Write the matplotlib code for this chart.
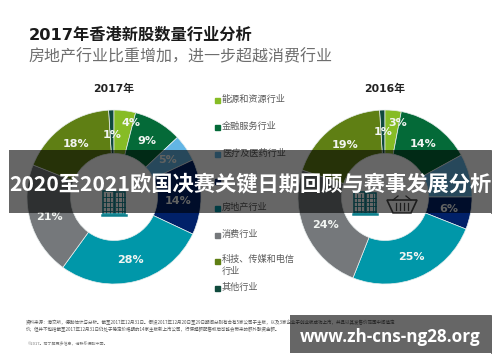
import matplotlib
matplotlib.use("Agg")
import numpy as np
import matplotlib.pyplot as plt
from matplotlib.patches import Rectangle, Polygon

plt.rcParams['font.family'] = ['DejaVu Sans', 'Noto Sans CJK SC']
CJK = ['Noto Sans CJK SC', 'DejaVu Sans']

sectors = ["其他行业", "能源和资源行业", "金融服务行业", "医疗及医药行业", "",
           "房地产行业", "消费行业", "科技、传媒和电信\n行业"]
share_2017 = [1, 4, 9, 5, 14, 28, 21, 18]
share_2016 = [1, 3, 14, 8, 6, 25, 24, 19]
colors = ["#0f4a3c", "#86BC25", "#046A38", "#62B5E5", "#012169", "#0097A9", "#75787B", "#5f7f14"]
legend_order = [1, 2, 3, 4, 5, 6, 7, 0]
legend_y = [100, 127, 154, 181, 208, 235, 261, 288]

W, H = 500, 362
fig = plt.figure(figsize=(W / 100, H / 100), dpi=100, facecolor="white")


def add_donut(cx, cy, R, values, moved, hidden=()):
    ax = fig.add_axes([(cx - R) / W, 1 - (cy + R) / H, 2 * R / W, 2 * R / H], zorder=1)
    wedges, _ = ax.pie(values, colors=colors, startangle=90 + 3.6 * values[0], counterclock=False,
                       radius=1, wedgeprops=dict(width=0.5, edgecolor="#e8eeee", linewidth=0.5))
    ax.set_xlim(-1, 1)
    ax.set_ylim(-1, 1)
    for i, (w, v) in enumerate(zip(wedges, values)):
        if i in hidden:
            continue  # covered by the banner in the reference
        a = np.deg2rad((w.theta1 + w.theta2) / 2)
        x, y = moved.get(i, (0.75 * np.cos(a), 0.75 * np.sin(a)))
        ax.text(x, y, f"{v}%", color="#f2f5f2", fontsize=8, fontweight="bold", ha="center", va="center")


add_donut(114, 197, 87, share_2017, {0: (-0.02, 0.71), 1: (0.19, 0.85), 4: (0.74, -0.05), 6: (-0.74, -0.225)})
add_donut(385, 197, 87, share_2016, {0: (-0.02, 0.75), 1: (0.15, 0.85)}, hidden=(3,))

under = fig.add_axes([0, 0, 1, 1], zorder=2)
under.set_xlim(0, W)
under.set_ylim(H, 0)
under.axis("off")

under.text(29, 35, "2017年香港新股数量行业分析", fontsize=11.7, fontweight="bold", color="#1a1a1a", va="center")
under.text(28, 57, "房地产行业比重增加，进一步超越消费行业", fontsize=11.5, color="#6e6e6e", va="center", family=CJK)
under.text(114, 88.5, "2017年", fontsize=7.8, fontweight="bold", color="#222222", ha="center", va="center")
under.text(385, 88.5, "2016年", fontsize=7.8, fontweight="bold", color="#222222", ha="center", va="center")

for idx, y in zip(legend_order, legend_y):
    under.add_patch(Rectangle((214.5, y - 2.5), 5, 5, color=colors[idx]))
    if "\n" in sectors[idx]:
        under.text(222, y - 6, sectors[idx], fontsize=6.6, color="#5a5a5a", va="top", family=CJK, linespacing=1.45)
    elif sectors[idx]:
        under.text(222, y - 0.5, sectors[idx], fontsize=6.6, color="#5a5a5a", va="center", family=CJK)

note = ("资料来源：港交所，德勤估计与分析。截至2017年12月31日。假设2017年12月20日至29日期间分别有合有5家公司于主板，"
        "以及3家企业于创业板成功上市，并且以其发售价范围中间值定\n"
        "价，但并不包括截至2017年12月31日仍处于稳定价格期的14家主板新上市公司，行使超额配售权后可能会带来的额外融资金额。")
under.text(26, 326, note, fontsize=3.25, color="#555555", va="center", family=CJK, linespacing=1.5)
under.text(28, 343.5, "©2017。若了解更多信息，请联系德勤中国。", fontsize=2.9, color="#777777", va="center", family=CJK)


def building(x0, y0, w, h, c="#0b7f8c"):
    under.add_patch(Rectangle((x0 + 1, y0), w * 0.45, h - 1, fill=False, ec=c, lw=1.1))
    under.add_patch(Rectangle((x0 + w * 0.55, y0 + 1), w * 0.42, h - 2, fill=False, ec=c, lw=1.1))
    under.plot([x0, x0 + w], [y0 + h, y0 + h], color=c, lw=1.8)
    for fx in (0.15, 0.33, 0.67, 0.85):
        under.plot([x0 + fx * w] * 2, [y0 + 0.1 * h, y0 + 0.92 * h], color=c, lw=0.6)
    for fy in (0.25, 0.45, 0.65, 0.85):
        under.plot([x0 + 0.05 * w, x0 + 0.42 * w], [y0 + fy * h] * 2, color=c, lw=0.6)
        under.plot([x0 + 0.58 * w, x0 + 0.95 * w], [y0 + fy * h] * 2, color=c, lw=0.6)


building(102, 191, 24, 24)
building(353, 192, 24, 22)

bc = "#4a4a4a"
under.add_patch(Polygon([(387, 200), (417, 200), (411, 213), (393, 213)], closed=True, fill=False, ec=bc, lw=1.2))
under.plot([393, 398], [200, 196], color=bc, lw=0.9)
under.plot([411, 406], [200, 196], color=bc, lw=0.9)
for bx in (396, 400, 404, 408):
    under.plot([bx, bx], [203, 210], color=bc, lw=0.9)

top = fig.add_axes([0, 0, 1, 1], zorder=5)
top.set_xlim(0, W)
top.set_ylim(H, 0)
top.axis("off")
top.add_patch(Rectangle((9, 150), 482, 63, color="black", alpha=0.6, lw=0))
top.add_patch(Rectangle((290, 315), 201, 38, color="black", alpha=0.6, lw=0))
top.plot([490.7, 490.7], [150, 213], color="#222222", lw=0.5)
top.plot([490.7, 490.7], [315, 353], color="#222222", lw=0.5)
top.text(250, 184, "2020至2021欧国决赛关键日期回顾与赛事发展分析", fontsize=15.3, fontweight="bold", color="white",
         ha="center", va="center", family=CJK)
top.text(390, 337, "www.zh-cns-ng28.org", fontsize=12.3, fontweight="bold", color="white",
         ha="center", va="center", family="Open Sans")

fig.savefig("out.png", dpi=100)
